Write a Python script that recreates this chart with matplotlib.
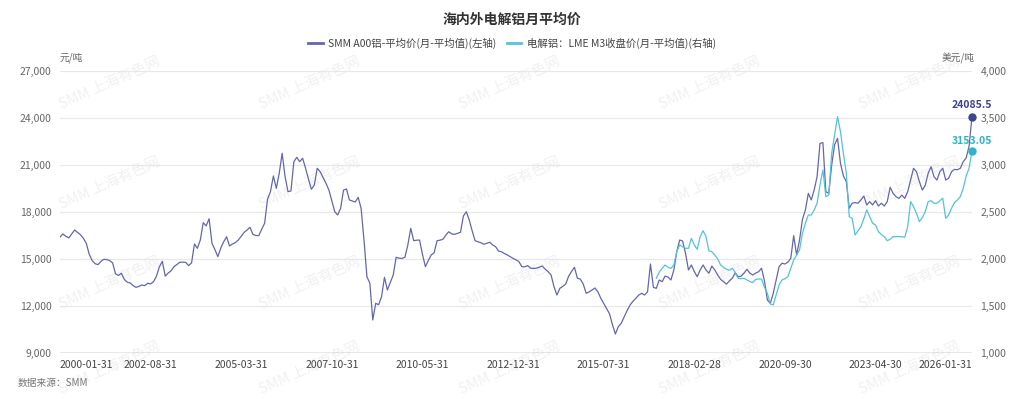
import matplotlib
matplotlib.use("Agg")
import matplotlib.pyplot as plt
from matplotlib.lines import Line2D

plt.rcParams['font.family'] = ['Noto Sans CJK SC', 'DejaVu Sans']

# ---------------- data ----------------
title = "海内外电解铝月平均价"
series_smm_name = "SMM A00铝-平均价(月-平均值)(左轴)"
series_lme_name = "电解铝：LME M3收盘价(月-平均值)(右轴)"

# monthly SMM A00 average price, 2000-01 .. 2026-01 (yuan/t)
smm_2000 = [16400, 16600, 16450, 16350, 16600, 16850, 16700, 16550, 16320, 16000, 15300, 14900]
smm_2001 = [14700, 14640, 14850, 14980, 14960, 14900, 14750, 14050, 13950, 14090, 13700, 13520]
smm_2002 = [13470, 13300, 13190, 13250, 13340, 13300, 13450, 13410, 13550, 13910, 14500, 14850]
smm_2003 = [13910, 14100, 14250, 14510, 14650, 14790, 14800, 14790, 14580, 14750, 15960, 15680]
smm_2004 = [16210, 17320, 17110, 17570, 16000, 15600, 15150, 15700, 16100, 16420, 15830, 15960]
smm_2005 = [16050, 16210, 16450, 16700, 16850, 17020, 16570, 16500, 16490, 16900, 17280, 18810]
smm_2006 = [19300, 20300, 19510, 20470, 21750, 20250, 19300, 19340, 21210, 21490, 21210, 21430]
smm_2007 = [20800, 20100, 19450, 19720, 20790, 20570, 20200, 19830, 19400, 18700, 18020, 17810]
smm_2008 = [18240, 19400, 19470, 18770, 18700, 18640, 18940, 18240, 16210, 13870, 13450, 11110]
smm_2009 = [12170, 12080, 12590, 13830, 13020, 13500, 13980, 15110, 15050, 15040, 15110, 15900]
smm_2010 = [16960, 16170, 16200, 16210, 15300, 14510, 14900, 15260, 15400, 16170, 16200, 16260]
smm_2011 = [16530, 16740, 16600, 16570, 16640, 16700, 17740, 18020, 17490, 16800, 16170, 16100]
smm_2012 = [16040, 15940, 16000, 16070, 15900, 15790, 15510, 15470, 15350, 15260, 15150, 15040]
smm_2013 = [14950, 14830, 14510, 14500, 14580, 14410, 14400, 14410, 14480, 14550, 14350, 14190]
smm_2014 = [13980, 13230, 12700, 13130, 13250, 13400, 13900, 14200, 14470, 13770, 13720, 13400]
smm_2015 = [12810, 12900, 13020, 13150, 12910, 12500, 12170, 11850, 11500, 10800, 10210, 10680]
smm_2016 = [10900, 11300, 11700, 12060, 12300, 12490, 12700, 12810, 12700, 12910, 14680, 13190]
smm_2017 = [13130, 13660, 13550, 13910, 13850, 13660, 14300, 15470, 16210, 16150, 15360, 14300]
smm_2018 = [14620, 14200, 13870, 14300, 14620, 14300, 14090, 14550, 14300, 13980, 13700, 13550]
smm_2019 = [13400, 13600, 13770, 14120, 13870, 13900, 14100, 14340, 14100, 13980, 14100, 14190]
smm_2020 = [14410, 13600, 12380, 12170, 12810, 13660, 14510, 14730, 14680, 14800, 15040, 16490]
smm_2021 = [15260, 16210, 17530, 18130, 19190, 18770, 19400, 20250, 22380, 22430, 19300, 19190]
smm_2022 = [21000, 22300, 22700, 21110, 20300, 19940, 18240, 18560, 18600, 18560, 18770, 19020]
smm_2023 = [18450, 18660, 18450, 18720, 18380, 18560, 18380, 18660, 19580, 19190, 18980, 18870]
smm_2024 = [19080, 18870, 19300, 20040, 20790, 20570, 19940, 19400, 19700, 20470, 20890, 20250]
smm_2025 = [20040, 20570, 20790, 20040, 20150, 20570, 20720, 20700, 20790, 21210, 21450, 22200]
smm_2026 = [24085.5]

# monthly LME 3M close average, 2017-01 .. 2026-01 (USD/t)
lme_2017 = [1795, 1860, 1901, 1936, 1912, 1900, 1936, 2078, 2149, 2130, 2114, 2114]
lme_2018 = [2220, 2150, 2103, 2238, 2301, 2238, 2085, 2078, 2043, 2000, 1936, 1910]
lme_2019 = [1891, 1880, 1901, 1855, 1795, 1790, 1795, 1777, 1760, 1748, 1784, 1787]
lme_2020 = [1787, 1700, 1635, 1521, 1511, 1617, 1723, 1777, 1790, 1812, 1901, 1990]
lme_2021 = [2043, 2096, 2274, 2380, 2468, 2468, 2520, 2593, 2788, 2947, 2663, 2681]
lme_2022 = [3125, 3320, 3514, 3355, 3125, 2912, 2450, 2433, 2256, 2300, 2344, 2430]
lme_2023 = [2522, 2450, 2380, 2362, 2291, 2260, 2238, 2195, 2210, 2238, 2238, 2238]
lme_2024 = [2238, 2231, 2344, 2610, 2557, 2486, 2397, 2440, 2504, 2610, 2620, 2593]
lme_2025 = [2593, 2620, 2646, 2433, 2468, 2540, 2600, 2628, 2663, 2752, 2883, 2965]
lme_2026 = [3153.05]

start_year, start_month = 2000, 1
lme_start = (2017, 1)

x_tick_labels = ["2000-01-31", "2002-08-31", "2005-03-31", "2007-10-31", "2010-05-31",
                 "2012-12-31", "2015-07-31", "2018-02-28", "2020-09-30", "2023-04-30",
                 "2026-01-31"]
left_ticks = [9000, 12000, 15000, 18000, 21000, 24000, 27000]
right_ticks = [1000, 1500, 2000, 2500, 3000, 3500, 4000]

# ---------------- assemble ----------------
smm = (smm_2000 + smm_2001 + smm_2002 + smm_2003 + smm_2004 + smm_2005 + smm_2006 +
       smm_2007 + smm_2008 + smm_2009 + smm_2010 + smm_2011 + smm_2012 + smm_2013 +
       smm_2014 + smm_2015 + smm_2016 + smm_2017 + smm_2018 + smm_2019 + smm_2020 +
       smm_2021 + smm_2022 + smm_2023 + smm_2024 + smm_2025 + smm_2026)
lme = (lme_2017 + lme_2018 + lme_2019 + lme_2020 + lme_2021 + lme_2022 + lme_2023 +
       lme_2024 + lme_2025 + lme_2026)

x_smm = list(range(len(smm)))
lme_offset = (lme_start[0] - start_year) * 12 + (lme_start[1] - start_month)
x_lme = [lme_offset + k for k in range(len(lme))]

def label_to_index(lbl):
    y, m = int(lbl[:4]), int(lbl[5:7])
    return (y - start_year) * 12 + (m - start_month)

tick_pos = [label_to_index(l) for l in x_tick_labels]

# ---------------- styling ----------------
C_SMM = "#6367ad"
C_LME = "#52c4d8"
C_SMM_LBL = "#3e4390"
C_LME_LBL = "#2fb3c8"
GRID = "#e8e8e8"
TICK = "#666666"

fig = plt.figure(figsize=(10.24, 3.99), dpi=100)
ax = fig.add_axes([60/1024, 1-353/399, (972-60)/1024, (353-71)/399])
ax2 = ax.twinx()

# watermarks
for yy in [83, 183, 283, 368]:
    for xx in [110, 310, 510, 710, 910]:
        fig.text(xx/1024, 1-yy/399, "SMM 上海有色网", rotation=24, fontsize=10.5,
                 color="#f1f1f1", ha="center", va="center", zorder=-5)

ax.set_xlim(0, len(smm) - 1)
ax.set_ylim(left_ticks[0], left_ticks[-1])
ax2.set_ylim(right_ticks[0], right_ticks[-1])
ax.set_yticks(left_ticks)
ax.set_yticklabels([f"{v:,}" for v in left_ticks])
ax2.set_yticks(right_ticks)
ax2.set_yticklabels([f"{v:,}" for v in right_ticks])

ax.grid(axis="y", color=GRID, linewidth=0.9)
ax.set_axisbelow(True)
for a in (ax, ax2):
    for s in ("top", "left", "right", "bottom"):
        a.spines[s].set_visible(False)
    a.patch.set_alpha(0)
ax.axhline(left_ticks[0], color="#999999", linewidth=1.0, zorder=1)

ax.tick_params(axis="y", length=0, labelsize=7.5, labelcolor=TICK, pad=6)
ax2.tick_params(axis="y", length=0, labelsize=7.5, labelcolor=TICK, pad=6)

ax.set_xticks(tick_pos)
ax.set_xticklabels(x_tick_labels)
ax.tick_params(axis="x", length=0, labelsize=7.5, labelcolor="#444444", pad=5)
xt = ax.get_xticklabels()
xt[0].set_ha("left")
xt[-1].set_ha("right")

ax.plot(x_smm, smm, color=C_SMM, linewidth=0.9, zorder=3)
ax2.plot(x_lme, lme, color=C_LME, linewidth=0.9, zorder=3)

# end markers and labels
ax.plot([x_smm[-1]], [smm[-1]], "o", color=C_SMM_LBL, markersize=5, zorder=4, clip_on=False)
ax.annotate(f"{smm[-1]}", (x_smm[-1], smm[-1]), xytext=(0, 5), textcoords="offset points",
            ha="center", va="bottom", fontsize=7.5, fontweight="bold", color=C_SMM_LBL,
            annotation_clip=False)
ax2.plot([x_lme[-1]], [lme[-1]], "o", color=C_LME_LBL, markersize=5, zorder=4, clip_on=False)
ax2.annotate(f"{lme[-1]}", (x_lme[-1], lme[-1]), xytext=(0, 3), textcoords="offset points",
             ha="center", va="bottom", fontsize=7.5, fontweight="bold", color=C_LME_LBL,
             annotation_clip=False)

# units
fig.text(60/1024, 1-58/399, "元/吨", fontsize=7, color=TICK, ha="left", va="center")
fig.text(975/1024, 1-58/399, "美元/吨", fontsize=7, color=TICK, ha="right", va="center")

# title and legend
fig.text(0.5, 1-20/399, title, fontsize=10, fontweight="bold", color="#333333",
         ha="center", va="center")
handles = [Line2D([0], [0], color=C_SMM, linewidth=2),
           Line2D([0], [0], color=C_LME, linewidth=2)]
fig.legend(handles, [series_smm_name, series_lme_name], loc="center",
           bbox_to_anchor=(0.5, 1-43/399), ncol=2, frameon=False, fontsize=7.5,
           handlelength=1.4, handletextpad=0.5, columnspacing=1.0,
           labelcolor="#444444")

fig.text(18/1024, 1-383/399, "数据来源：SMM", fontsize=7, color="#777777",
         style="italic", ha="left", va="center")

fig.savefig("out.png", dpi=100)
